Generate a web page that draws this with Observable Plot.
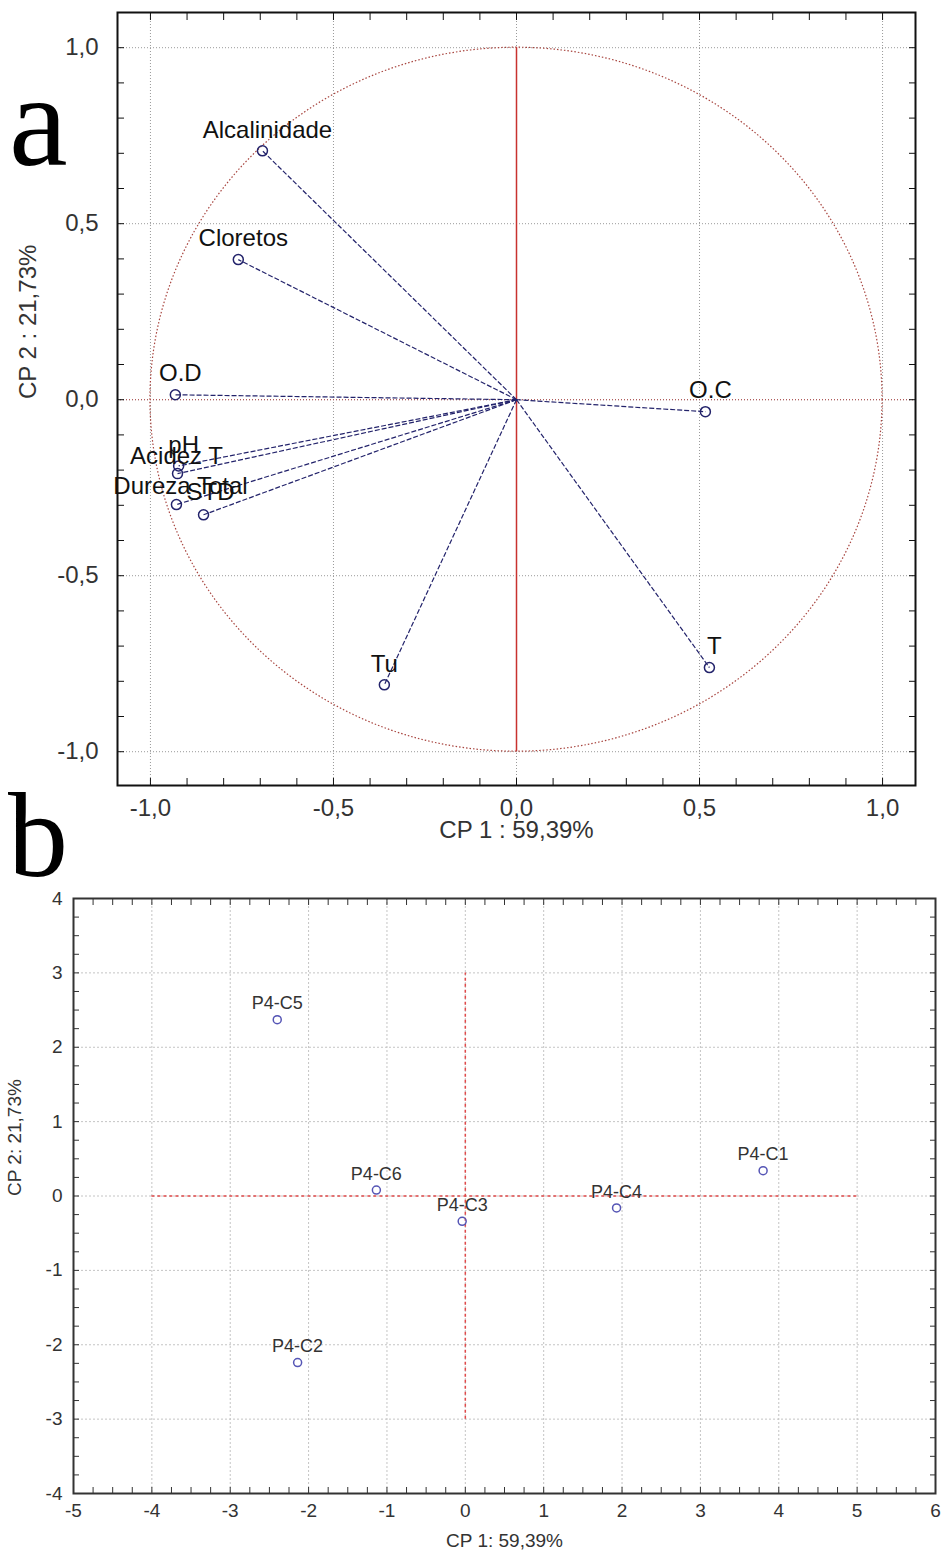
<!DOCTYPE html>
<html>
<head>
<meta charset="utf-8">
<script src="https://cdn.jsdelivr.net/npm/d3@7"></script>
<script src="https://cdn.jsdelivr.net/npm/@observablehq/plot@0.6"></script>
<style>
  body { margin: 0; background: #fff; }
  #wrap { position: relative; width: 944px; height: 1558px; background: #fff; overflow: hidden; }
  #ca { position: absolute; left: 0; top: 0; }
  #cb { position: absolute; left: 0; top: 850px; }
  .letter { position: absolute; font-family: "Liberation Serif", "DejaVu Serif", serif; color: #000; line-height: 1; }
</style>
</head>
<body>
<div id="wrap">
  <div id="ca"></div>
  <div id="cb"></div>
  <div class="letter" style="left:9px; top:55px; font-size:132px;">a</div>
  <div class="letter" style="left:8px; top:776px; font-size:120px;">b</div>
</div>
<script>
// ---------- Data: panel a (variable loadings) ----------
const varNames   = ["Alcalinidade", "Cloretos", "O.D", "pH", "Acidez T", "Dureza Total", "STD", "O.C", "T", "Tu"];
const varCP1     = [-0.694, -0.760, -0.932, -0.923, -0.926, -0.929, -0.855, 0.516, 0.527, -0.361];
const varCP2     = [ 0.707,  0.398,  0.014, -0.188, -0.210, -0.298, -0.327, -0.034, -0.761, -0.810];

// ---------- Data: panel b (sample scores) ----------
const sampleNames = ["P4-C1", "P4-C2", "P4-C3", "P4-C4", "P4-C5", "P4-C6"];
const sampleCP1   = [3.80, -2.14, -0.04, 1.93, -2.40, -1.135];
const sampleCP2   = [0.34, -2.24, -0.34, -0.16, 2.37, 0.08];

// ---------- Ticks / labels ----------
const topTicks      = [-1, -0.5, 0, 0.5, 1];
const topTickLabels = ["-1,0", "-0,5", "0,0", "0,5", "1,0"];
const botXTicks     = [-5, -4, -3, -2, -1, 0, 1, 2, 3, 4, 5, 6];
const botYTicks     = [-4, -3, -2, -1, 0, 1, 2, 3, 4];
const topXTitle = "CP 1 : 59,39%";
const topYTitle = "CP 2 : 21,73%";
const botXTitle = "CP 1: 59,39%";
const botYTitle = "CP 2: 21,73%";

// ---------- Build tables ----------
const vars = varNames.map((name, i) => ({name, cp1: varCP1[i], cp2: varCP2[i]}));
const samples = sampleNames.map((name, i) => ({name, cp1: sampleCP1[i], cp2: sampleCP2[i]}));

// label nudges (layout only)
const defaultNudge = [5, -21];
const nudges = {"Acidez T": [-1, -17], "Dureza Total": [4, -18], "Tu": [0, -21], "STD": [7, -22]};

const topMinor = d3.range(-10, 11).map(i => i / 10);
const botMinorX = d3.range(-20, 25).map(i => i / 4);
const botMinorY = d3.range(-16, 17).map(i => i / 4);

const navy = "#23236b";
const fmtTop = d => topTickLabels[topTicks.indexOf(d)];
const font = "'Liberation Sans', Arial, Helvetica, sans-serif";

const unitCircle = Plot.dot([{cx: 0, cy: 0}], {
  x: "cx", y: "cy",
  render: (index, scales) => {
    const {x, y} = scales;
    const g = d3.create("svg:g");
    g.append("ellipse")
      .attr("cx", x(0)).attr("cy", y(0))
      .attr("rx", (x(1) - x(-1)) / 2)
      .attr("ry", (y(-1) - y(1)) / 2)
      .attr("fill", "none")
      .attr("stroke", "#a8453f")
      .attr("stroke-width", 1.2)
      .attr("stroke-dasharray", "1.5,2");
    return g.node();
  }
});

// label text marks grouped by nudge
const labelGroups = [];
const groupKeys = {};
vars.forEach(v => {
  const n = nudges[v.name] || defaultNudge;
  const k = n.join(",");
  if (!groupKeys[k]) { groupKeys[k] = {n, names: []}; labelGroups.push(groupKeys[k]); }
  groupKeys[k].names.push(v.name);
});
const labelMarks = labelGroups.map(gp =>
  Plot.text(vars.filter(v => gp.names.includes(v.name)), {
    x: "cp1", y: "cp2", text: "name", dx: gp.n[0], dy: gp.n[1],
    fontSize: 24, fill: "#111", textAnchor: "middle"
  })
);

const minorTickOpts = {tickFormat: () => "", label: null, tickSize: -7, stroke: "#111"};

const chartA = Plot.plot({
  width: 944, height: 850,
  marginLeft: 117, marginRight: 29, marginTop: 12, marginBottom: 65,
  x: {domain: [-1.09, 1.09]},
  y: {domain: [-1.096, 1.1]},
  style: {fontFamily: font, background: "white", color: "#333", overflow: "visible"},
  marks: [
    Plot.gridX(topTicks, {stroke: "#9a9a9a", strokeOpacity: 1, strokeDasharray: "1,2"}),
    Plot.gridY(topTicks, {stroke: "#9a9a9a", strokeOpacity: 1, strokeDasharray: "1,2"}),
    Plot.ruleY([0], {stroke: "#b04848", strokeDasharray: "1,2"}),
    unitCircle,
    Plot.ruleX([0], {y1: -1, y2: 1, stroke: "#c8322f", strokeWidth: 1.5}),
    Plot.link(vars, {x1: 0, y1: 0, x2: "cp1", y2: "cp2", stroke: navy, strokeWidth: 1.2, strokeDasharray: "5,2"}),
    Plot.dot(vars, {x: "cp1", y: "cp2", r: 5, stroke: navy, strokeWidth: 1.5, fill: "none"}),
    ...labelMarks,
    Plot.axisX(topMinor, {anchor: "bottom", ...minorTickOpts}),
    Plot.axisX(topMinor, {anchor: "top", ...minorTickOpts}),
    Plot.axisY(topMinor, {anchor: "left", ...minorTickOpts}),
    Plot.axisY(topMinor, {anchor: "right", ...minorTickOpts}),
    Plot.axisX(topTicks, {anchor: "bottom", tickSize: 0, tickPadding: 13, tickFormat: fmtTop, fontSize: 24, label: null, fill: "#333"}),
    Plot.axisY(topTicks, {anchor: "left", tickSize: 0, tickPadding: 19, tickFormat: fmtTop, fontSize: 24, label: null, fill: "#333"}),
    Plot.frame({stroke: "#111", strokeWidth: 2}),
    Plot.text([topXTitle], {text: d => d, frameAnchor: "bottom", dy: 52, fontSize: 24, fill: "#333"}),
    Plot.text([topYTitle], {text: d => d, frameAnchor: "left", dx: -89, rotate: -90, fontSize: 24, fill: "#333"})
  ]
});
document.getElementById("ca").appendChild(chartA);

const minorTickOptsB = {tickFormat: () => "", label: null, tickSize: -6, stroke: "#333"};

const chartB = Plot.plot({
  width: 944, height: 708,
  marginLeft: 73, marginRight: 9, marginTop: 48, marginBottom: 65,
  x: {domain: [-5, 6]},
  y: {domain: [-4, 4]},
  style: {fontFamily: font, background: "white", color: "#333", overflow: "visible"},
  marks: [
    Plot.gridX(botXTicks, {stroke: "#c4c4c4", strokeOpacity: 1, strokeDasharray: "2,2"}),
    Plot.gridY(botYTicks, {stroke: "#c4c4c4", strokeOpacity: 1, strokeDasharray: "2,2"}),
    Plot.ruleY([0], {x1: -4, x2: 5, stroke: "#e04a4a", strokeWidth: 1.5, strokeDasharray: "3,3"}),
    Plot.ruleX([0], {y1: -3, y2: 3, stroke: "#e04a4a", strokeWidth: 1.5, strokeDasharray: "3,3"}),
    Plot.dot(samples, {x: "cp1", y: "cp2", r: 4, stroke: "#5555b5", strokeWidth: 1.5, fill: "none"}),
    Plot.text(samples, {x: "cp1", y: "cp2", text: "name", dy: -16, fontSize: 18, fill: "#333"}),
    Plot.axisX(botMinorX, {anchor: "bottom", ...minorTickOptsB}),
    Plot.axisX(botMinorX, {anchor: "top", ...minorTickOptsB}),
    Plot.axisY(botMinorY, {anchor: "left", ...minorTickOptsB}),
    Plot.axisY(botMinorY, {anchor: "right", ...minorTickOptsB}),
    Plot.axisX(botXTicks, {anchor: "bottom", tickSize: 0, tickPadding: 10, fontSize: 19, label: null, fill: "#333", tickFormat: d => String(d)}),
    Plot.axisY(botYTicks, {anchor: "left", tickSize: 0, tickPadding: 11, fontSize: 19, label: null, fill: "#333", tickFormat: d => String(d)}),
    Plot.frame({stroke: "#333", strokeWidth: 2}),
    Plot.text([botXTitle], {text: d => d, frameAnchor: "bottom", dy: 53, fontSize: 19, fill: "#333"}),
    Plot.text([botYTitle], {text: d => d, frameAnchor: "left", dx: -59, rotate: -90, fontSize: 19, fill: "#333"})
  ]
});
document.getElementById("cb").appendChild(chartB);
</script>
</body>
</html>
